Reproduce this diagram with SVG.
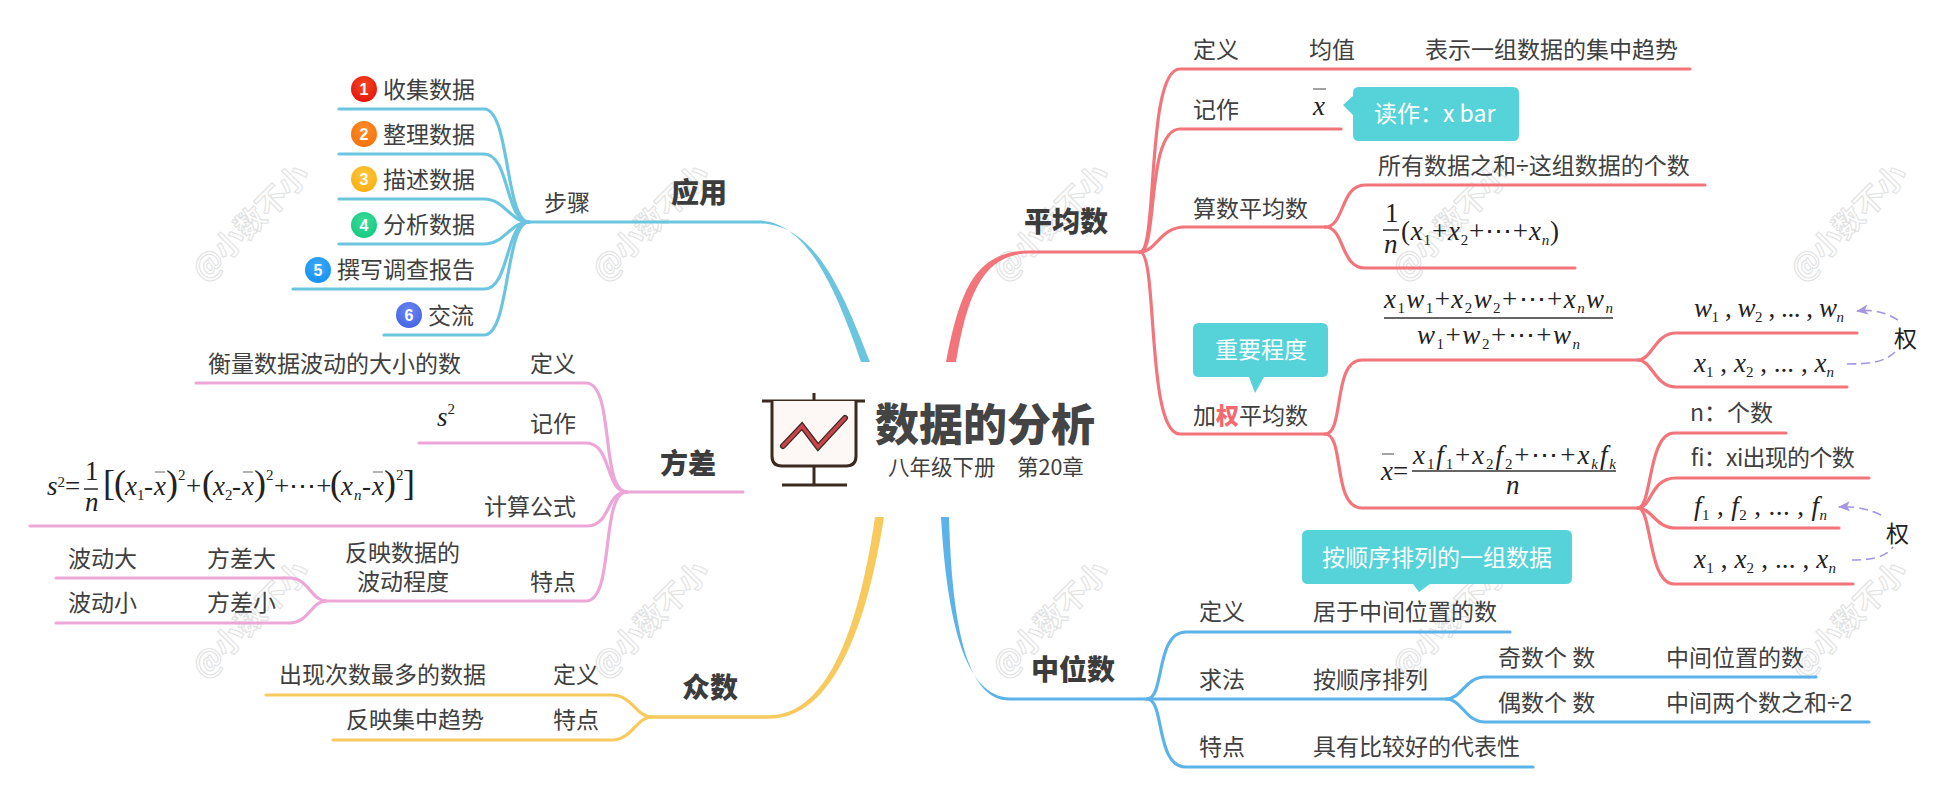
<svg xmlns="http://www.w3.org/2000/svg" width="1954" height="800" viewBox="0 0 1954 800">
<style>
text{font-family:"Noto Sans CJK SC","Noto Sans",sans-serif;fill:#404040;font-size:23px}
.d{font-family:"Liberation Sans",sans-serif}
.b{font-weight:900;font-size:28px;fill:#3c3c3c}
.w{fill:#fff}
.wm{font-size:30px;fill:#fff;stroke:#e2e2e2;stroke-width:1.1;font-weight:700}
.m{font-family:"Liberation Serif",serif;font-style:italic;font-size:27px;fill:#222}
.m tspan.u{font-style:normal}
.m tspan.p{font-style:normal;font-size:36px;font-weight:400}
.m tspan.s{font-size:15px;font-style:normal}
.m tspan.si{font-size:15px;font-style:italic}
.n{font-family:"Liberation Sans",sans-serif;font-size:16px;font-weight:700;fill:#fff;text-anchor:middle}
.c{fill:none;stroke-width:3.2;stroke-linecap:round;stroke-linejoin:round}
.red{stroke:#f2757b}.blue{stroke:#6cc5df}.pink{stroke:#eca7d8}.yel{stroke:#f8ca5e}.sky{stroke:#5cb3ea}
.ml{stroke:#333;stroke-width:1.6;fill:none}
.ob{stroke:#666;stroke-width:1.2;fill:none}
.call{fill:#55d3d8}
.pur{fill:none;stroke:#a595e2;stroke-width:1.6;stroke-dasharray:9 5}
</style>
<defs>
<radialGradient id="g1" cx="0.5" cy="0.35" r="0.7"><stop offset="0" stop-color="#f24a20"/><stop offset="1" stop-color="#e50f0b"/></radialGradient>
<radialGradient id="g2" cx="0.5" cy="0.35" r="0.7"><stop offset="0" stop-color="#fb8f2a"/><stop offset="1" stop-color="#f96f08"/></radialGradient>
<radialGradient id="g3" cx="0.5" cy="0.35" r="0.7"><stop offset="0" stop-color="#fcc63c"/><stop offset="1" stop-color="#fbad10"/></radialGradient>
<radialGradient id="g4" cx="0.5" cy="0.35" r="0.7"><stop offset="0" stop-color="#3cdc9c"/><stop offset="1" stop-color="#12c97f"/></radialGradient>
<radialGradient id="g5" cx="0.5" cy="0.35" r="0.7"><stop offset="0" stop-color="#3eaaf8"/><stop offset="1" stop-color="#1290f2"/></radialGradient>
<radialGradient id="g6" cx="0.5" cy="0.35" r="0.7"><stop offset="0" stop-color="#6d87ee"/><stop offset="1" stop-color="#4362e6"/></radialGradient>
<marker id="ah" viewBox="0 0 12 10" refX="11" refY="5" markerWidth="12" markerHeight="10" markerUnits="userSpaceOnUse" orient="auto"><path d="M12 5L0 0L3 5L0 10Z" fill="#a595e2"/></marker>
</defs>

<g id="watermarks">
<text class="wm" transform="translate(205 283) rotate(-45)">@小数不小</text>
<text class="wm" transform="translate(605 283) rotate(-45)">@小数不小</text>
<text class="wm" transform="translate(1005 283) rotate(-45)">@小数不小</text>
<text class="wm" transform="translate(1405 283) rotate(-45)">@小数不小</text>
<text class="wm" transform="translate(1803 283) rotate(-45)">@小数不小</text>
<text class="wm" transform="translate(205 680) rotate(-45)">@小数不小</text>
<text class="wm" transform="translate(605 680) rotate(-45)">@小数不小</text>
<text class="wm" transform="translate(1005 680) rotate(-45)">@小数不小</text>
<text class="wm" transform="translate(1405 680) rotate(-45)">@小数不小</text>
<text class="wm" transform="translate(1803 680) rotate(-45)">@小数不小</text>
</g>

<g id="connectors">
<path fill="#f2757b" d="M946 362C960 290 975 250.5 1030 250.5H1140V253.5H1030C985 253.5 968 290 956 362Z"/>
<path fill="#6cc5df" d="M529 220.5H758C805 220.5 835 285 861 362H870C842 290 815 223.5 758 223.5H529Z"/>
<path fill="#f8ca5e" d="M875 517H884C868 620 835 718.7 769 718.7H652V715.3H769C830 715.3 860 620 875 517Z"/>
<path fill="#5cb3ea" d="M941 517H949C952 620 965 700.6 1010 700.6H1147V697.4H1010C965 697.4 947 620 941 517Z"/>
<path class="c pink" d="M627 492H743"/>
<path class="c red" d="M1140 252C1158 252 1146 69 1180 69H1690"/>
<path class="c red" d="M1140 252C1158 252 1146 129 1180 129H1341"/>
<path class="c red" d="M1140 252C1156 252 1160 227 1185 227H1325"/>
<path class="c red" d="M1140 252C1158 252 1146 434 1180 434H1325"/>
<path class="c red" d="M1325 227C1345 227 1340 185 1365 185H1705"/>
<path class="c red" d="M1325 227C1345 227 1340 268 1365 268H1575"/>
<path class="c red" d="M1325 434C1345 434 1332 360 1362 360H1638"/>
<path class="c red" d="M1325 434C1345 434 1332 508 1362 508H1638"/>
<path class="c red" d="M1638 360C1652 360 1655 333 1676 333H1857"/>
<path class="c red" d="M1638 360C1652 360 1655 387 1676 387H1847"/>
<path class="c red" d="M1638 508C1652 508 1648 433 1674 433H1786"/>
<path class="c red" d="M1638 508C1652 508 1650 478 1676 478H1869"/>
<path class="c red" d="M1638 508C1652 508 1655 528 1676 528H1839"/>
<path class="c red" d="M1638 508C1652 508 1648 584 1674 584H1853"/>
<path class="c sky" d="M1147 699C1165 699 1155 632 1186 632H1510"/>
<path class="c sky" d="M1147 699H1446"/>
<path class="c sky" d="M1147 699C1165 699 1155 767 1186 767H1533"/>
<path class="c sky" d="M1446 699C1462 699 1465 677 1485 677H1816"/>
<path class="c sky" d="M1446 699C1462 699 1465 722 1485 722H1869"/>
<path class="c blue" d="M529 222C505 222 510 109 484 109H339"/>
<path class="c blue" d="M529 222C505 222 510 154 484 154H339"/>
<path class="c blue" d="M529 222C510 222 505 199 484 199H339"/>
<path class="c blue" d="M529 222C510 222 505 244 484 244H339"/>
<path class="c blue" d="M529 222C505 222 510 289 484 289H293"/>
<path class="c blue" d="M529 222C505 222 510 335 484 335H384"/>
<path class="c pink" d="M627 492C600 492 615 383 586 383H196"/>
<path class="c pink" d="M627 492C605 492 612 443 586 443H419"/>
<path class="c pink" d="M627 492C605 492 612 526 586 526H30"/>
<path class="c pink" d="M627 492C600 492 615 601 586 601H326"/>
<path class="c pink" d="M326 601C312 601 308 578 290 578H56"/>
<path class="c pink" d="M326 601C312 601 308 623 290 623H56"/>
<path class="c yel" d="M652 717C636 717 632 695 612 695H266"/>
<path class="c yel" d="M652 717C636 717 632 740 612 740H333"/>
<path class="pur" d="M1898 320C1885 312 1872 309 1857 311" marker-end="url(#ah)"/>
<path class="pur" d="M1847 364C1870 364 1885 362 1895 352"/>
<path class="pur" d="M1881 515C1868 509 1855 506 1839 507" marker-end="url(#ah)"/>
<path class="pur" d="M1852 560C1870 560 1885 558 1893 547"/>
</g>

<g id="root">
<path d="M762 401H865M814 393V401" stroke="#3a2a20" stroke-width="3" fill="none"/>
<path d="M772 401V456Q772 466 782 466H846Q856 466 856 456V401" fill="#fdf8f5" stroke="#3a2a20" stroke-width="3"/>
<path d="M814 466V485M782 485H847" stroke="#3a2a20" stroke-width="3" fill="none"/>
<path d="M783 446L802 426L818 447L845 418" fill="none" stroke="#3a2a20" stroke-width="6" stroke-linecap="round"/>
<path d="M783 446L802 426L818 447L845 418" fill="none" stroke="#c9434c" stroke-width="3.4" stroke-linecap="round"/>
<text x="875" y="441" style="font-size:44px;font-weight:900;fill:#444">数据的分析</text>
<text x="888" y="475" style="font-size:21.5px">八年级下册　第20章</text>
</g>

<g id="t-avg">
<text class="b" x="1024" y="232">平均数</text>
<text x="1193" y="58">定义</text>
<text x="1309" y="58">均值</text>
<text x="1425" y="58">表示一组数据的集中趋势</text>
<text x="1193" y="118">记作</text>
<text x="1193" y="217">算数平均数</text>
<text x="1378" y="174">所有数据之和<tspan class="d">÷</tspan>这组数据的个数</text>
<text x="1193" y="424">加<tspan style="fill:#f2696f;font-weight:900">权</tspan>平均数</text>
<text x="1690" y="421">n：个数</text>
<text x="1690" y="466" textLength="164">fi：xi出现的个数</text>
<text x="1894" y="347" style="fill:#222">权</text>
<text x="1886" y="542" style="fill:#222">权</text>
</g>

<g id="callouts">
<g id="c-xbar"><path class="call" d="M1359 87H1513Q1519 87 1519 93V135Q1519 141 1513 141H1359Q1353 141 1353 135V115L1343 105L1353 96V93Q1353 87 1359 87Z"/><text class="w" x="1374" y="122">读作：x bar</text></g>
<g id="c-imp"><path class="call" d="M1199 323H1322Q1328 323 1328 329V371Q1328 377 1322 377H1264L1255 393L1249 377H1199Q1193 377 1193 371V329Q1193 323 1199 323Z"/><text class="w" x="1215" y="358">重要程度</text></g>
<g id="c-seq"><path class="call" d="M1308 530H1566Q1572 530 1572 536V578Q1572 584 1566 584H1430L1419 592L1413 584H1308Q1302 584 1302 578V536Q1302 530 1308 530Z"/><text class="w" x="1322" y="566">按顺序排列的一组数据</text></g>
</g>

<g id="f-avg">
<text class="m" x="1313" y="115">x</text><path class="ob" d="M1313 89H1326"/>
<text class="m" x="1385" y="222" style="font-style:normal">1</text><path class="ml" d="M1383 230H1399"/><text class="m" x="1384" y="253">n</text>
<text class="m" x="1401" y="240" textLength="158"><tspan class="u">(</tspan>x<tspan class="s" dy="5">1</tspan><tspan class="u" dy="-5">+</tspan>x<tspan class="s" dy="5">2</tspan><tspan class="u" dy="-5">+⋯+</tspan>x<tspan class="si" dy="5">n</tspan><tspan class="u" dy="-5">)</tspan></text>
<text class="m" x="1384" y="308" textLength="229">x<tspan class="s" dy="5">1</tspan><tspan dy="-5">w</tspan><tspan class="s" dy="5">1</tspan><tspan class="u" dy="-5">+</tspan>x<tspan class="s" dy="5">2</tspan><tspan dy="-5">w</tspan><tspan class="s" dy="5">2</tspan><tspan class="u" dy="-5">+⋯+</tspan>x<tspan class="si" dy="5">n</tspan><tspan dy="-5">w</tspan><tspan class="si" dy="5">n</tspan></text>
<path class="ml" d="M1384 318H1613"/>
<text class="m" x="1417" y="344" textLength="163">w<tspan class="s" dy="5">1</tspan><tspan class="u" dy="-5">+</tspan>w<tspan class="s" dy="5">2</tspan><tspan class="u" dy="-5">+⋯+</tspan>w<tspan class="si" dy="5">n</tspan></text>
<text class="m" x="1694" y="317" textLength="150">w<tspan class="s" dy="5">1</tspan><tspan class="u" dy="-5"> , </tspan>w<tspan class="s" dy="5">2</tspan><tspan class="u" dy="-5"> , ... , </tspan>w<tspan class="si" dy="5">n</tspan></text>
<text class="m" x="1694" y="372" textLength="140">x<tspan class="s" dy="5">1</tspan><tspan class="u" dy="-5"> , </tspan>x<tspan class="s" dy="5">2</tspan><tspan class="u" dy="-5"> , ... , </tspan>x<tspan class="si" dy="5">n</tspan></text>
<text class="m" x="1381" y="480">x<tspan class="u">=</tspan></text><path class="ob" d="M1382 454H1394"/>
<text class="m" x="1413" y="464" textLength="203">x<tspan class="s" dy="5">1</tspan><tspan dy="-5">f</tspan><tspan class="s" dy="5">1</tspan><tspan class="u" dy="-5">+</tspan>x<tspan class="s" dy="5">2</tspan><tspan dy="-5">f</tspan><tspan class="s" dy="5">2</tspan><tspan class="u" dy="-5">+⋯+</tspan>x<tspan class="si" dy="5">k</tspan><tspan dy="-5">f</tspan><tspan class="si" dy="5">k</tspan></text>
<path class="ml" d="M1412 471H1616"/>
<text class="m" x="1506" y="494">n</text>
<text class="m" x="1694" y="515" textLength="133">f<tspan class="s" dy="5">1</tspan><tspan class="u" dy="-5"> , </tspan>f<tspan class="s" dy="5">2</tspan><tspan class="u" dy="-5"> , ... , </tspan>f<tspan class="si" dy="5">n</tspan></text>
<text class="m" x="1694" y="568" textLength="142">x<tspan class="s" dy="5">1</tspan><tspan class="u" dy="-5"> , </tspan>x<tspan class="s" dy="5">2</tspan><tspan class="u" dy="-5"> , ... , </tspan>x<tspan class="si" dy="5">n</tspan></text>
</g>

<g id="t-median">
<text class="b" x="1031" y="680">中位数</text>
<text x="1199" y="620">定义</text><text x="1313" y="620">居于中间位置的数</text>
<text x="1199" y="688">求法</text><text x="1313" y="688">按顺序排列</text>
<text x="1498" y="666">奇数个 数</text><text x="1666" y="666">中间位置的数</text>
<text x="1498" y="711">偶数个 数</text><text x="1666" y="711">中间两个数之和<tspan class="d">÷2</tspan></text>
<text x="1199" y="755">特点</text><text x="1313" y="755">具有比较好的代表性</text>
</g>

<g id="t-apply">
<text class="b" x="671" y="203">应用</text>
<text x="544" y="211">步骤</text>
<g id="s1"><circle cx="364" cy="89" r="13" fill="url(#g1)"/><text class="n" x="364" y="95">1</text><text x="383" y="98">收集数据</text></g>
<g id="s2"><circle cx="364" cy="134" r="13" fill="url(#g2)"/><text class="n" x="364" y="140">2</text><text x="383" y="143">整理数据</text></g>
<g id="s3"><circle cx="364" cy="179" r="13" fill="url(#g3)"/><text class="n" x="364" y="185">3</text><text x="383" y="188">描述数据</text></g>
<g id="s4"><circle cx="364" cy="225" r="13" fill="url(#g4)"/><text class="n" x="364" y="231">4</text><text x="383" y="233">分析数据</text></g>
<g id="s5"><circle cx="318" cy="270" r="13" fill="url(#g5)"/><text class="n" x="318" y="276">5</text><text x="337" y="278">撰写调查报告</text></g>
<g id="s6"><circle cx="409" cy="315" r="13" fill="url(#g6)"/><text class="n" x="409" y="321">6</text><text x="428" y="324">交流</text></g>
</g>

<g id="t-var">
<text class="b" x="660" y="474">方差</text>
<text x="208" y="372">衡量数据波动的大小的数</text><text x="530" y="372">定义</text>
<text x="530" y="432">记作</text>
<text x="484" y="515">计算公式</text>
<text x="345" y="561">反映数据的</text><text x="357" y="590">波动程度</text>
<text x="530" y="590">特点</text>
<text x="68" y="567">波动大</text><text x="207" y="567">方差大</text>
<text x="68" y="611">波动小</text><text x="207" y="611">方差小</text>
<text class="m" x="437" y="426">s<tspan class="s" dy="-12">2</tspan></text>
<text class="m" x="47" y="495">s<tspan class="s" dy="-8">2</tspan><tspan class="u" dy="8">=</tspan></text>
<text class="m" x="85" y="480" style="font-style:normal">1</text><path class="ml" d="M84 489H98"/><text class="m" x="85" y="511">n</text>
<text class="m" y="495"><tspan class="p" x="103">[</tspan><tspan class="p" x="114">(</tspan><tspan x="125">x</tspan><tspan class="s" x="137" dy="5">1</tspan><tspan class="u" x="144" dy="-5">-</tspan><tspan x="154">x</tspan><tspan class="p" x="166">)</tspan><tspan class="s" x="178" y="480">2</tspan><tspan class="u" x="186" y="495">+</tspan><tspan class="p" x="202">(</tspan><tspan x="213">x</tspan><tspan class="s" x="225" dy="5">2</tspan><tspan class="u" x="232" dy="-5">-</tspan><tspan x="242">x</tspan><tspan class="p" x="254">)</tspan><tspan class="s" x="266" y="480">2</tspan><tspan class="u" x="274" y="495">+⋯+</tspan><tspan class="p" x="330">(</tspan><tspan x="341">x</tspan><tspan class="si" x="354" dy="5">n</tspan><tspan class="u" x="362" dy="-5">-</tspan><tspan x="372">x</tspan><tspan class="p" x="384">)</tspan><tspan class="s" x="396" y="480">2</tspan><tspan class="p" x="403" y="495">]</tspan></text>
<path class="ob" d="M155 472H165M243 472H253M373 472H383"/>
</g>

<g id="t-mode">
<text class="b" x="682" y="698">众数</text>
<text x="279" y="683">出现次数最多的数据</text><text x="553" y="683">定义</text>
<text x="346" y="728">反映集中趋势</text><text x="553" y="728">特点</text>
</g>
</svg>
